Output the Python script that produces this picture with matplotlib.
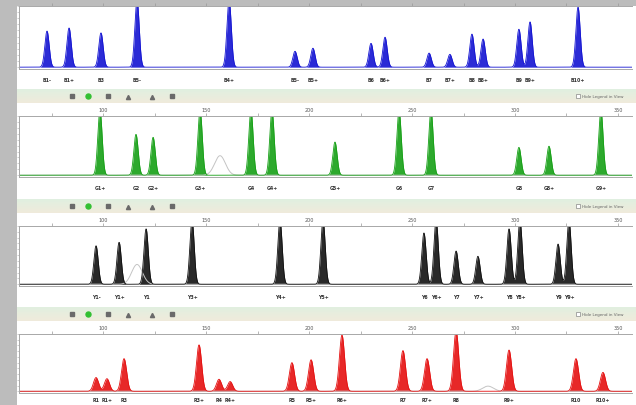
import numpy as np
import matplotlib
matplotlib.use('Agg')
import matplotlib.pyplot as plt

W, H = 636, 406

# peak sizes (bp), heights (RFU) and allele calls for each dye
blue_pos = [72.8, 83.5, 99.0, 116.5, 161.2, 193.2, 201.9, 230.1, 236.9, 258.3,
            268.4, 279.1, 284.5, 301.9, 307.3, 330.6]
blue_rfu = [590, 640, 560, 1100, 1100, 260, 310, 390, 490, 230,
            210, 540, 460, 620, 740, 980]
blue_lab = ['B1-', 'B1+', 'B3', 'B5-', 'B4+', 'B5-', 'B5+', 'B6', 'B6+', 'B7',
            'B7+', 'B8', 'B8+', 'B9', 'B9+', 'B10+']

green_pos = [98.5, 116.0, 124.3, 147.1, 171.8, 182.0, 212.6, 243.7, 259.2,
             301.9, 316.5, 341.7]
green_rfu = [1100, 690, 640, 1100, 1100, 1100, 560, 1100, 1100, 470, 490, 1100]
green_lab = ['G1+', 'G2', 'G2+', 'G3+', 'G4', 'G4+', 'G5+', 'G6', 'G7',
             'G8', 'G8+', 'G9+']

black_pos = [96.6, 107.8, 120.9, 143.2, 185.9, 206.8, 255.8, 261.7, 271.4,
             282.0, 297.1, 302.4, 320.9, 326.2]
black_rfu = [660, 720, 950, 1100, 1100, 1100, 880, 1100, 570, 480,
             950, 1100, 690, 1100]
black_lab = ['Y1-', 'Y1+', 'Y1', 'Y3+', 'Y4+', 'Y5+', 'Y6', 'Y6+', 'Y7',
             'Y7+', 'Y8', 'Y8+', 'Y9', 'Y9+']

red_pos = [96.6, 101.9, 110.2, 146.6, 156.3, 161.7, 191.7, 201.0, 216.0,
           245.6, 257.3, 271.4, 297.1, 329.6, 342.7]
red_rfu = [240, 220, 570, 810, 210, 170, 500, 550, 980, 710, 570, 1050,
           720, 570, 330]
red_lab = ['R1', 'R1+', 'R3', 'R3+', 'R4', 'R4+', 'R5', 'R5+', 'R6+', 'R7',
           'R7+', 'R8', 'R9+', 'R10', 'R10+']

# off-ladder artefacts drawn as grey outlines
ghost_pos = {'green': [156.8], 'black': [116.5], 'red': [286.9]}
ghost_rfu = {'green': [330], 'black': [340], 'red': [90]}

size_ticks = [100, 150, 200, 250, 300, 350]

panels = [
    ('blue', '#1414d2', blue_pos, blue_rfu, blue_lab, 7, 70, 1.05, -0.17),
    ('green', '#16a016', green_pos, green_rfu, green_lab, 117, 178, 1.05, -0.17),
    ('black', '#111111', black_pos, black_rfu, black_lab, 227, 287, 1.05, -0.17),
    ('red', '#e51010', red_pos, red_rfu, red_lab, 335, 394, 1.25, -0.11),
]
toolbars = [97, 207, 315]


def box(left, top, right, bottom):
    return [left / W, 1 - bottom / H, (right - left) / W, (bottom - top) / H]


fig = plt.figure(figsize=(W / 100, H / 100), dpi=100)
fig.patch.set_facecolor('#bcbcbc')

bg = fig.add_axes(box(17, 7, W, H))
bg.set_facecolor('white')
bg.set_xticks([])
bg.set_yticks([])
for s in bg.spines.values():
    s.set_visible(False)

x = np.linspace(55, 360, 4000)

for name, color, pos, rfu, labels, top, bottom, sig, lab_y in panels:
    ax = fig.add_axes(box(19, top, 632, bottom))
    ax.set_facecolor('none')
    y = np.zeros_like(x)
    for p, h in zip(pos, rfu):
        y += h * np.exp(-0.5 * ((x - p) / sig) ** 2)
    for p, h in zip(ghost_pos.get(name, []), ghost_rfu.get(name, [])):
        g = h * np.exp(-0.5 * ((x - p) / 2.6) ** 2)
        ax.plot(x, g, color='#c4c4c4', lw=0.7)
    ax.fill_between(x, 0, y, color=color, alpha=0.9, lw=0)
    ax.plot(x, y, color=color, lw=0.6)
    ax.set_xlim(59.2, 356.8)
    ax.set_ylim(-30, 1000)

    ax.xaxis.tick_top()
    ax.set_xticks(size_ticks)
    ax.set_xticks(np.arange(75, 356, 25), minor=True)
    ax.tick_params(axis='x', which='both', length=2, width=0.5, color='#999999',
                   labelsize=3.5, labelcolor='#555555', pad=1)
    if name == 'blue':
        ax.tick_params(axis='x', labeltop=False)
    ax.set_yticks(np.arange(0, 1001, 100))
    ax.tick_params(axis='y', length=1.5, width=0.4, color='#aaaaaa', labelleft=False)
    for s in ['top', 'left', 'bottom']:
        ax.spines[s].set_color('#a8a8a8')
        ax.spines[s].set_linewidth(0.7)
    ax.spines['right'].set_visible(False)

    for p, lab in zip(pos, labels):
        ax.text(p, lab_y, lab, transform=ax.get_xaxis_transform(),
                ha='center', va='center', fontsize=3.4, color='#333333',
                fontweight='bold')

# tool strips between panels
for yc in toolbars:
    tb = fig.add_axes(box(17, yc - 7, W, yc + 7))
    grad = np.linspace(0, 1, 20)[:, None, None]
    top_c = np.array([0.88, 0.94, 0.88])
    bot_c = np.array([0.94, 0.92, 0.86])
    tb.imshow(top_c * (1 - grad) + bot_c * grad, aspect='auto',
              extent=[17, W, 0, 1], origin='upper')
    tb.set_xlim(17, W)
    tb.set_ylim(0, 1)
    tb.axis('off')
    tb.plot([72, 108, 172], [0.5] * 3, 's', ms=3.2, color='#6a6a6a')
    tb.plot([88], [0.5], 'o', ms=3.6, color='#33c033')
    tb.plot([128, 152], [0.45] * 2, '^', ms=3, color='#6a6a6a')
    tb.plot([578], [0.5], 's', ms=3, mfc='white', mec='#888888', mew=0.5)
    tb.text(582, 0.5, 'Hide Legend in View', fontsize=3, color='#666666',
            va='center', ha='left')

fig.savefig('out.png', dpi=100, facecolor=fig.get_facecolor())
